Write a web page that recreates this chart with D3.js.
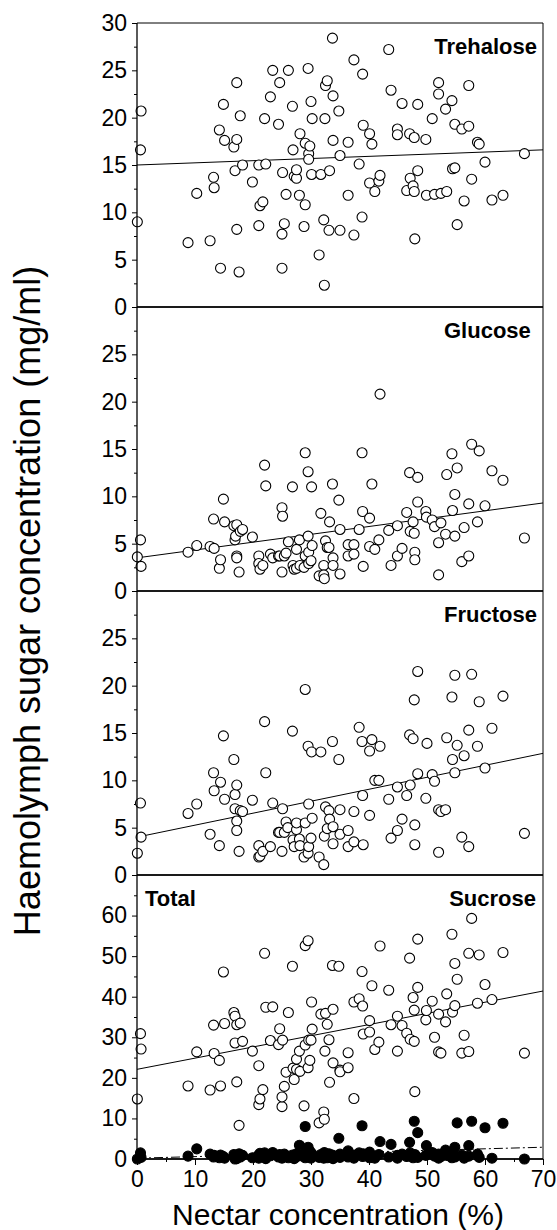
<!DOCTYPE html>
<html>
<head>
<meta charset="utf-8">
<script src="https://cdn.jsdelivr.net/npm/d3@7"></script>
<style>
  html, body { margin: 0; padding: 0; background: #fff; }
  svg { display: block; }
  text { font-family: "Liberation Sans", Arial, Helvetica, sans-serif; fill: #000; }
</style>
</head>
<body>
<svg id="chart" width="557" height="1230"></svg>
<script>
// Nectar concentration (%) vs haemolymph sugar concentration (mg/ml), one [x, y] pair per bird
const trehalose = [[0.06,9.0],[0.6,16.6],[0.7,20.7],[8.8,6.8],[10.3,12.0],[12.6,7.0],[13.2,13.7],[13.3,12.6],[14.2,18.7],[14.4,4.1],[14.9,21.4],[15.1,17.6],[16.7,16.9],[16.9,14.4],[17.2,23.7],[17.2,17.7],[17.2,8.2],[17.6,3.7],[17.8,20.2],[18.2,15.0],[19.9,13.2],[21.0,15.0],[21.0,8.6],[21.2,10.7],[21.7,11.1],[22.0,19.9],[22.2,15.1],[23.0,22.2],[23.4,25.0],[24.4,19.3],[24.6,23.7],[25.0,7.7],[25.0,4.1],[25.1,14.2],[25.4,8.8],[25.7,11.9],[26.1,25.0],[26.8,21.2],[26.9,16.6],[27.1,13.8],[27.5,13.6],[27.5,14.5],[28.0,11.8],[28.1,18.3],[28.8,8.5],[29.0,10.8],[29.0,17.3],[29.5,25.2],[29.6,16.2],[29.6,15.6],[29.8,17.0],[30.0,21.7],[30.1,14.0],[30.2,19.9],[31.4,5.5],[31.7,14.0],[32.2,9.2],[32.3,2.3],[32.4,19.9],[32.5,23.4],[32.8,23.9],[33.1,8.1],[33.2,14.4],[33.7,28.4],[33.8,22.3],[33.8,17.6],[34.8,20.7],[35.0,8.1],[35.0,16.0],[36.4,17.4],[36.4,11.8],[37.4,26.1],[37.4,7.6],[38.3,15.1],[38.8,9.5],[38.9,24.6],[39.0,19.2],[40.1,18.3],[40.1,13.1],[40.5,17.2],[41.0,12.2],[41.7,13.3],[41.9,13.9],[43.4,27.2],[43.8,22.9],[44.9,18.8],[44.9,18.2],[45.7,21.5],[46.5,12.3],[47.0,18.3],[47.1,13.6],[47.6,12.8],[47.8,17.9],[47.8,12.2],[47.9,7.2],[48.4,21.4],[48.4,14.4],[49.8,17.7],[49.9,11.8],[50.9,19.9],[51.3,11.9],[52.0,23.7],[52.0,22.5],[52.4,12.0],[53.2,20.9],[53.4,12.2],[54.3,21.8],[54.4,14.6],[54.8,14.7],[54.8,19.3],[55.2,8.7],[56.0,18.8],[56.4,11.2],[57.2,19.1],[57.2,23.4],[57.7,13.5],[58.7,17.4],[59.0,17.2],[60.0,15.3],[61.2,11.3],[63.1,11.8],[66.8,16.2]];

const glucose = [[0.06,3.6],[0.6,5.4],[0.7,2.6],[8.8,4.1],[10.3,4.8],[12.6,4.7],[13.2,7.6],[13.3,4.5],[14.2,2.4],[14.4,3.3],[14.9,9.7],[15.1,7.3],[16.7,6.9],[16.9,5.4],[17.0,5.8],[17.2,7.0],[17.2,3.7],[17.2,3.5],[17.6,2.0],[17.8,6.3],[18.2,6.5],[19.9,5.7],[21.0,3.7],[21.0,2.9],[21.2,2.3],[21.7,2.7],[22.0,13.3],[22.2,11.1],[23.0,3.9],[23.4,3.5],[24.4,3.7],[24.6,3.7],[25.0,2.0],[25.0,8.8],[25.1,7.9],[25.4,3.7],[25.7,4.0],[26.1,5.2],[26.8,11.0],[26.9,2.7],[27.1,2.3],[27.5,4.4],[27.5,2.4],[28.0,5.4],[28.1,2.7],[28.8,2.5],[29.0,14.6],[29.0,3.7],[29.5,12.6],[29.5,5.8],[29.6,4.1],[29.6,2.9],[30.0,3.2],[30.1,11.0],[30.2,4.8],[31.4,1.6],[31.7,8.2],[32.2,2.7],[32.2,1.7],[32.3,1.3],[32.5,5.3],[32.8,4.6],[33.1,4.6],[33.2,7.3],[33.7,11.3],[33.8,3.5],[33.8,2.7],[34.8,9.6],[35.0,6.5],[35.0,1.8],[36.4,4.9],[36.4,3.7],[37.4,4.9],[37.4,3.9],[38.3,6.5],[38.8,14.6],[38.9,8.4],[39.0,2.6],[40.1,7.7],[40.1,4.7],[40.5,11.3],[41.0,4.4],[41.7,5.4],[41.9,20.8],[43.4,6.4],[43.8,2.7],[44.9,6.9],[44.9,3.7],[45.7,4.5],[46.5,8.3],[47.0,12.5],[47.1,6.3],[47.6,7.3],[47.8,6.1],[47.9,4.1],[47.9,3.3],[48.4,12.0],[48.4,9.4],[49.8,8.4],[49.9,7.8],[50.9,7.5],[51.3,6.8],[52.0,5.1],[52.0,1.7],[52.4,7.2],[53.2,6.0],[53.4,12.3],[54.3,14.5],[54.4,8.5],[54.8,10.2],[54.8,5.8],[55.2,13.0],[56.0,3.1],[56.4,6.7],[57.2,9.2],[57.2,3.7],[57.7,15.5],[58.7,7.3],[59.0,14.8],[60.0,9.0],[61.2,12.7],[63.1,11.7],[66.8,5.6]];

const fructose = [[0.06,2.3],[0.6,7.6],[0.7,4.0],[8.8,6.5],[10.3,7.5],[12.6,4.3],[13.2,10.8],[13.3,8.9],[14.2,3.1],[14.4,9.8],[14.9,14.7],[15.1,8.0],[16.7,12.2],[16.9,8.5],[17.2,9.5],[16.9,7.0],[17.2,5.7],[17.2,4.7],[17.6,2.5],[17.8,6.8],[18.2,6.7],[19.9,7.9],[21.0,3.1],[21.0,1.9],[21.2,2.0],[21.7,2.5],[22.0,16.2],[22.2,10.8],[23.0,3.0],[23.4,7.6],[24.4,4.5],[24.6,4.5],[25.0,2.5],[25.1,7.0],[25.4,4.5],[25.7,5.6],[26.0,5.0],[26.8,15.2],[26.9,3.7],[27.1,3.0],[27.5,4.8],[27.5,5.5],[28.0,3.8],[28.1,3.1],[28.8,1.9],[29.0,19.6],[29.0,5.5],[29.5,13.6],[29.5,2.3],[29.6,7.5],[29.6,3.0],[30.0,3.9],[30.1,13.0],[30.2,6.0],[31.4,1.9],[31.7,13.0],[32.2,1.1],[32.3,4.1],[32.5,7.2],[32.8,4.9],[33.1,6.8],[33.2,5.9],[33.7,14.1],[33.8,5.1],[33.8,3.3],[34.8,12.2],[35.0,6.9],[35.0,4.3],[36.4,4.7],[36.4,3.0],[37.4,6.7],[37.4,3.5],[38.3,15.6],[38.8,14.1],[38.9,8.4],[39.0,3.2],[40.1,13.1],[40.1,6.3],[40.5,14.3],[41.0,10.0],[41.7,10.0],[41.9,13.6],[43.4,8.0],[43.8,3.9],[44.9,9.3],[44.9,4.7],[45.7,5.9],[46.5,8.4],[47.0,14.8],[47.1,9.5],[47.6,14.4],[47.8,18.5],[47.9,5.3],[47.9,3.2],[48.4,21.5],[48.4,10.7],[49.8,8.1],[50.0,13.9],[50.9,10.6],[51.3,9.9],[52.0,6.9],[52.0,2.4],[52.4,6.7],[53.2,6.9],[53.4,14.5],[54.3,18.8],[54.4,12.2],[54.8,10.8],[54.8,21.1],[55.2,13.7],[56.0,4.0],[56.4,12.6],[57.2,15.3],[57.2,3.0],[57.7,21.2],[58.7,13.6],[59.0,18.3],[60.0,11.3],[61.2,15.5],[63.1,18.9],[66.8,4.4]];

const total = [[0.06,14.8],[0.6,30.9],[0.7,27.1],[8.8,18.0],[10.3,26.4],[12.6,17.0],[13.2,33.0],[13.3,26.0],[14.2,24.3],[14.4,18.0],[14.9,46.1],[15.1,33.4],[16.7,36.1],[16.9,35.2],[17.2,33.1],[17.2,19.0],[17.6,8.3],[17.8,33.5],[16.9,28.6],[18.2,29.0],[19.9,26.6],[21.0,23.0],[21.0,13.4],[21.2,14.8],[21.7,17.1],[22.0,50.7],[22.2,37.4],[23.0,29.2],[23.4,37.5],[24.4,28.2],[24.6,32.1],[25.0,12.9],[25.0,15.3],[25.1,29.3],[25.4,17.9],[25.7,21.4],[26.1,36.1],[26.8,47.5],[26.9,22.4],[27.1,19.6],[27.5,24.6],[27.5,22.1],[28.0,26.6],[28.1,21.6],[28.8,13.1],[29.0,52.6],[29.0,28.1],[29.5,53.8],[29.5,22.5],[29.6,29.3],[29.8,24.3],[30.0,29.3],[30.1,38.7],[30.2,32.0],[31.4,8.9],[31.7,35.7],[32.2,11.6],[32.3,9.8],[32.4,26.6],[32.5,35.9],[32.8,33.2],[33.1,29.4],[33.2,18.9],[33.7,47.7],[33.8,36.9],[33.8,23.7],[34.8,47.5],[35.0,21.9],[35.0,21.5],[36.4,26.2],[36.4,22.5],[37.4,38.7],[37.4,14.9],[38.3,39.5],[38.8,46.2],[38.9,37.7],[39.0,30.8],[40.1,34.1],[40.1,31.3],[40.5,42.7],[41.0,27.0],[41.7,28.8],[41.9,52.5],[43.4,41.6],[43.8,33.1],[44.9,35.2],[44.9,26.6],[45.7,32.9],[46.5,31.0],[47.0,49.5],[47.1,29.5],[47.6,39.8],[47.8,36.7],[47.8,29.0],[47.9,16.6],[48.4,42.3],[48.4,54.2],[49.8,34.3],[49.9,36.6],[50.9,38.9],[51.3,30.0],[52.0,35.7],[52.0,26.4],[52.4,26.1],[53.2,33.8],[53.4,40.7],[54.3,55.4],[54.4,36.2],[54.8,37.8],[54.8,48.2],[55.2,44.3],[56.0,26.1],[56.4,30.5],[57.2,26.5],[57.2,50.7],[57.7,59.3],[58.7,38.4],[59.0,50.3],[60.0,43.0],[61.2,39.3],[63.1,50.9],[66.8,26.1]];

const sucrose = [[0.06,0],[0.6,1.5],[0.7,0.4],[8.8,0.7],[10.3,2.5],[12.6,1.2],[13.2,0.5],[13.3,0.9],[14.2,0.3],[14.4,1.0],[14.9,0.6],[15.1,0.2],[16.7,1.1],[16.9,0.4],[17.2,0.8],[17.2,0.1],[17.6,1.3],[17.8,0.5],[16.9,0],[18.2,0.9],[19.9,0.3],[21.0,1.0],[21.0,0.2],[21.2,1.4],[21.7,0.6],[22.0,1.5],[22.2,0.1],[23.0,0.8],[23.4,1.6],[24.4,0.5],[24.6,1.1],[25.0,0.2],[25.0,0.9],[25.1,0.4],[25.4,1.2],[25.7,0.7],[26.1,0.3],[26.8,1.0],[26.9,0.5],[27.1,0.1],[27.5,1.3],[27.5,0.6],[28.0,3.4],[28.1,0.8],[28.8,1.2],[29.0,8.0],[29.0,0.3],[29.5,2.9],[29.5,1.0],[29.6,0.5],[29.8,1.9],[30.0,0.2],[30.1,1.4],[30.2,0.7],[31.4,0.4],[31.7,1.1],[32.2,0.2],[32.3,1.6],[32.4,0.6],[32.5,0.9],[32.8,0.3],[33.1,1.3],[33.2,0.5],[33.7,1.0],[33.8,0.1],[33.8,0.7],[34.8,5.1],[35.0,0.4],[35.0,1.2],[36.4,2.0],[36.4,0.5],[37.4,1.0],[37.4,0.2],[38.3,1.5],[38.8,8.2],[38.9,0.6],[39.0,1.3],[40.1,0.3],[40.1,1.7],[40.5,0.8],[41.0,0.2],[41.7,1.1],[41.9,4.3],[43.4,0.5],[43.8,3.6],[44.9,0.9],[44.9,0.2],[45.7,1.2],[46.5,0.6],[47.0,4.1],[47.1,1.5],[47.6,0.3],[47.8,9.3],[47.8,0.8],[47.9,1.1],[48.4,6.5],[48.4,0.4],[49.8,0.9],[49.9,3.3],[50.9,1.6],[51.3,0.7],[52.0,0.2],[52.0,1.2],[52.4,0.6],[53.2,2.2],[53.4,0.9],[54.3,0.3],[54.4,1.4],[54.8,2.9],[54.8,0.5],[55.2,8.9],[56.0,1.0],[56.4,0.2],[57.2,3.3],[57.2,0.7],[57.7,9.3],[58.7,1.2],[59.0,0.4],[60.0,7.7],[61.2,0.2],[63.1,8.8],[66.8,0]];

// Linear fits: predicted value at 0 % and at 70 % nectar
const trehaloseFit = [15.0, 16.6];
const glucoseFit   = [3.5, 9.3];
const fructoseFit  = [4.0, 12.85];
const totalFit     = [22.1, 41.4];
const sucroseFit   = [0.2, 2.9];

// Axis ticks
const xTicks      = [0, 10, 20, 30, 40, 50, 60, 70];
const xMinorTicks = [5, 15, 25, 35, 45, 55, 65];
const ticksTop    = [0, 5, 10, 15, 20, 25, 30];
const ticksMid    = [0, 5, 10, 15, 20, 25];
const minorMid    = [2.5, 7.5, 12.5, 17.5, 22.5, 27.5];
const ticksTotal  = [0, 10, 20, 30, 40, 50, 60];
const minorTotal  = [5, 15, 25, 35, 45, 55, 65];

const FONT = '"Liberation Sans", Arial, Helvetica, sans-serif';
const plotLeft = 137, plotRight = 543, plotTop = 23, panelH = 284;

const svg = d3.select("#chart");
const x = d3.scaleLinear().domain([0, 70]).range([plotLeft, plotRight]);

const panels = [
  { max: 30, major: ticksTop, minor: minorMid,
    labels: [{ text: "Trehalose", x: 537, anchor: "end" }],
    fits: [{ v: trehaloseFit, dash: null }],
    series: [{ pts: trehalose, fill: "#fff" }] },
  { max: 30, major: ticksMid, minor: minorMid,
    labels: [{ text: "Glucose", x: 444, anchor: "start" }],
    fits: [{ v: glucoseFit, dash: null }],
    series: [{ pts: glucose, fill: "#fff" }] },
  { max: 30, major: ticksMid, minor: minorMid,
    labels: [{ text: "Fructose", x: 444, anchor: "start" }],
    fits: [{ v: fructoseFit, dash: null }],
    series: [{ pts: fructose, fill: "#fff" }] },
  { max: 70, major: ticksTotal, minor: minorTotal,
    labels: [{ text: "Total", x: 145, anchor: "start" }, { text: "Sucrose", x: 536, anchor: "end" }],
    fits: [{ v: totalFit, dash: null }, { v: sucroseFit, dash: "9,3,2,3" }],
    series: [{ pts: total, fill: "#fff" }, { pts: sucrose, fill: "#000" }] }
];

panels.forEach((p, i) => {
  const y0 = plotTop + i * panelH;
  const y = d3.scaleLinear().domain([0, p.max]).range([y0 + panelH, y0]);
  const g = svg.append("g");

  // minor and major ticks on the left axis
  const minorAxis = g.append("g").attr("transform", `translate(${plotLeft},0)`)
    .call(d3.axisLeft(y).tickValues(p.minor).tickSize(3).tickFormat(""));
  minorAxis.select(".domain").remove();
  const majorAxis = g.append("g").attr("transform", `translate(${plotLeft},0)`)
    .call(d3.axisLeft(y).tickValues(p.major).tickSize(5).tickPadding(5).tickFormat(d3.format("d")));
  majorAxis.select(".domain").remove();
  majorAxis.attr("font-size", 23).attr("font-family", FONT);
  g.selectAll(".tick line").attr("stroke", "#000").attr("stroke-width", 1);

  // regression lines
  p.fits.forEach(f => {
    g.append("line")
      .attr("x1", x(0)).attr("y1", y(f.v[0]))
      .attr("x2", x(70)).attr("y2", y(f.v[1]))
      .attr("stroke", "#000").attr("stroke-width", 1)
      .attr("stroke-dasharray", f.dash);
  });

  // baseline of the panel
  g.append("line")
    .attr("x1", plotLeft).attr("x2", plotRight)
    .attr("y1", y(0)).attr("y2", y(0))
    .attr("stroke", "#1a1a1a").attr("stroke-width", 1.8);

  // data points
  p.series.forEach(s => {
    g.append("g").selectAll("circle").data(s.pts).join("circle")
      .attr("cx", d => x(d[0])).attr("cy", d => y(d[1]))
      .attr("r", 5)
      .attr("fill", s.fill).attr("stroke", "#000").attr("stroke-width", 1.1);
  });

  // panel labels
  p.labels.forEach(l => {
    g.append("text")
      .attr("x", l.x).attr("y", y0 + 31)
      .attr("text-anchor", l.anchor)
      .attr("font-family", FONT).attr("font-size", 22).attr("font-weight", "bold")
      .text(l.text);
  });
});

const plotBottom = plotTop + 4 * panelH;

// frame: left axis, right edge, top edge
svg.append("line").attr("x1", plotLeft).attr("x2", plotLeft).attr("y1", plotTop).attr("y2", plotBottom)
  .attr("stroke", "#000").attr("stroke-width", 1.3);
svg.append("line").attr("x1", plotRight).attr("x2", plotRight).attr("y1", plotTop).attr("y2", plotBottom)
  .attr("stroke", "#000").attr("stroke-width", 1);
svg.append("line").attr("x1", plotLeft).attr("x2", plotRight).attr("y1", plotTop).attr("y2", plotTop)
  .attr("stroke", "#000").attr("stroke-width", 1);

// x axis
const xMinor = svg.append("g").attr("transform", `translate(0,${plotBottom})`)
  .call(d3.axisBottom(x).tickValues(xMinorTicks).tickSize(3).tickFormat(""));
xMinor.select(".domain").remove();
const xMajor = svg.append("g").attr("transform", `translate(0,${plotBottom})`)
  .call(d3.axisBottom(x).tickValues(xTicks).tickSize(6).tickPadding(6).tickFormat(d3.format("d")));
xMajor.select(".domain").remove();
xMajor.attr("font-size", 23).attr("font-family", FONT);
svg.selectAll(".tick line").attr("stroke", "#000");

// axis titles
svg.append("text")
  .attr("x", 338).attr("y", 1225)
  .attr("text-anchor", "middle")
  .attr("font-family", FONT).attr("font-size", 30)
  .text("Nectar concentration (%)");

svg.append("text")
  .attr("transform", "translate(40,601) rotate(-90)")
  .attr("text-anchor", "middle")
  .attr("font-family", FONT).attr("font-size", 36)
  .text("Haemolymph sugar concentration (mg/ml)");
</script>
</body>
</html>
